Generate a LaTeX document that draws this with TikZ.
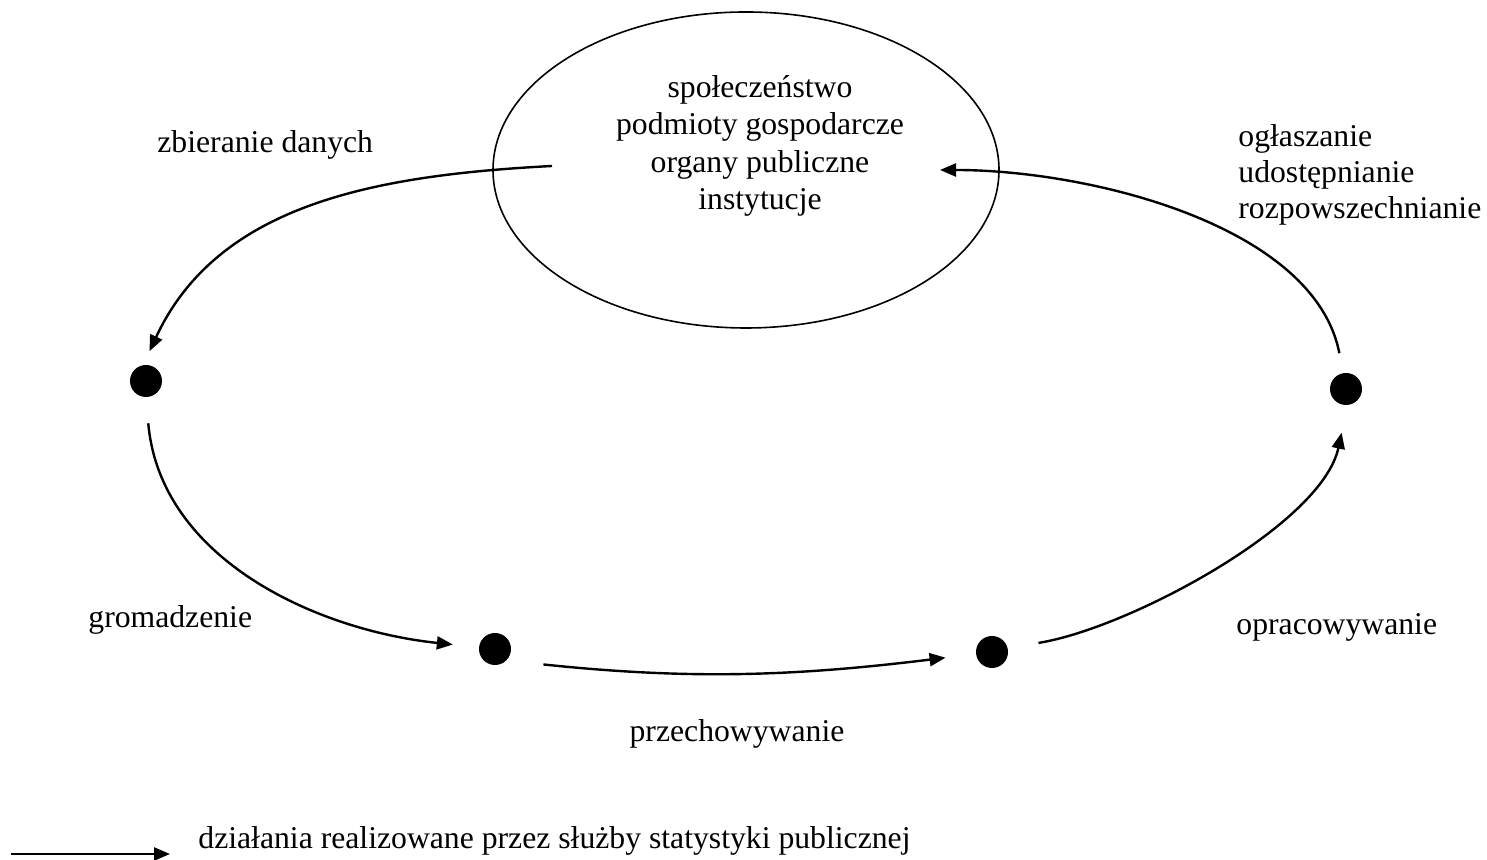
\documentclass[tikz,border=0pt]{standalone}
\usepackage{fontspec}
\setmainfont{Liberation Serif}
\usetikzlibrary{arrows.meta,shapes.geometric}

\begin{document}
\begin{tikzpicture}[x=0.5pt,y=0.5pt,
  every node/.style={inner sep=0pt,font=\fontsize{15.85pt}{18.8pt}\selectfont},
  dot/.style={circle,fill=black,minimum size=16pt},
  flow/.style={line width=1.2pt,-{Triangle[length=8pt,width=6.5pt]}}]
  \useasboundingbox (0,0) rectangle (1487,860);
  % the ellipse in the middle
  \node[draw,ellipse,line width=0.8pt,minimum width=253pt,minimum height=158pt] (soc) at (746,690) {};
  \node[align=center] (socT) at (760,714) {społeczeństwo\\podmioty gospodarcze\\organy publiczne\\instytucje};
  % dots
  \node[dot] (L) at (146,479) {};
  \node[dot] (B1) at (495,211) {};
  \node[dot] (B2) at (992,208) {};
  \node[dot] (R) at (1346,471) {};
  \coordinate (zbStart) at (552,694);
  \coordinate (ogEnd) at (940,690);
  % the cycle
  \path (zbStart) edge[flow, out=183, in=65, shorten >=7.5pt] (L.100);
  \path (L.south) edge[flow, out=275, in=174, shorten <=13pt, shorten >=13pt] (B1);
  \path (B1.-45) edge[flow, out=-6, in=187, shorten <=18.5pt, shorten >=15.2pt] (B2);
  \path (B2.15) edge[flow, out=9, in=258, looseness=0.75, shorten <=15.5pt, shorten >=14pt] (R.275);
  \path (R.100) edge[flow, out=101, in=0, looseness=0.85, shorten <=10pt] (ogEnd);
  % labels
  \node[anchor=base west] (zb) at (157,707) {zbieranie danych};
  \node[anchor=base west] (gr) at (88,232) {gromadzenie};
  \node[anchor=base] (prz) at (737,118) {przechowywanie};
  \node[anchor=base west] (opr) at (1236,225) {opracowywanie};
  \node[anchor=west,align=left,font=\fontsize{15.85pt}{18pt}\selectfont] (ogl) at (1238,685) {ogłaszanie\\udostępnianie\\rozpowszechnianie};
  % legend
  \coordinate (legA) at (11,6);
  \coordinate (legB) at (170,6);
  \path (legA) edge[flow] (legB);
  \node[anchor=base west] (leg) at (198,11) {działania realizowane przez służby statystyki publicznej};
\end{tikzpicture}
\end{document}
